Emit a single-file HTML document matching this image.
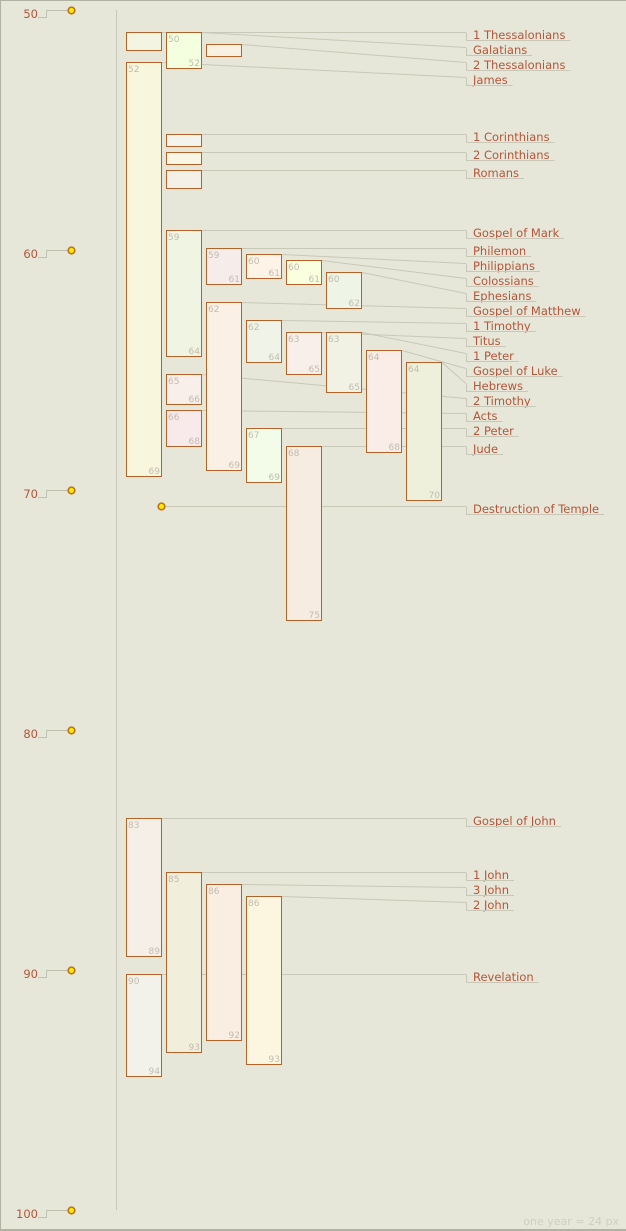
<!DOCTYPE html>
<html><head><meta charset="utf-8">
<style>
html,body{margin:0;padding:0;background:#e6e7d8;}
#wrap{position:relative;width:625px;height:1228px;border-left:1px solid #b0b3a2;border-top:1px solid #b0b3a2;border-bottom:2px solid #b0b3a2;background:#e6e7d8;overflow:hidden;}
svg{position:absolute;left:-1px;top:-1px;}
text{font-family:"DejaVu Sans","Liberation Sans",sans-serif;}
</style></head>
<body>
<div id="wrap">
<svg id="chart" width="626" height="1231"></svg>
</div>
<script>
// ---- data ----
const books = ["1 Thessalonians","Galatians","2 Thessalonians","James","1 Corinthians","2 Corinthians","Romans","Gospel of Mark","Philemon","Philippians","Colossians","Ephesians","Gospel of Matthew","1 Timothy","Titus","1 Peter","Gospel of Luke","Hebrews","2 Timothy","Acts","2 Peter","Jude","Gospel of John","1 John","3 John","2 John","Revelation"];
const startYears = [50.75,50.75,51.25,52,55,55.75,56.5,59,59.75,60,60.25,60.75,62,62.75,63.25,63.25,64,64.5,65,66.5,67.25,68,83.5,85.75,86.25,86.75,90];
const endYears   = [51.5,52.25,51.75,69.25,55.5,56.25,57.25,64.25,61.25,61,61.25,62.25,69,64.5,65,65.75,68.25,70.25,66.25,68,69.5,75.25,89.25,93.25,92.75,93.75,94.25];
const startText  = ["","50","","52","","","","59","59","60","60","60","62","62","63","63","64","64","65","66","67","68","83","85","86","86","90"];
const endText    = ["","52","","69","","","","64","61","61","61","62","69","64","65","65","68","70","66","68","69","75","89","93","92","93","94"];
const columns    = [0,1,2,0,1,1,1,1,2,3,4,5,2,3,4,5,6,7,1,1,3,4,0,1,2,3,0];
const fills = ["#f4f4e2","#f4ffe0","#f8f0e0","#f8f6dc","#f4f4ec","#faf6e6","#f4f0e8","#f0f4e2","#f6ecea","#fdf3e6","#faffe0","#eef4e6","#faf0e6","#f0f4e8","#f8efea","#f2f2e4","#faece6","#eef0dc","#f8eeea","#f8eaea","#f2fce8","#f6ece2","#f6efe8","#f2eedc","#faeee2","#fcf5e0","#f2f2ea"];
const labelRowY = [35,50,65,80,137,155,173,233,251,266,281,296,311,326,341,356,371,386,401,416,431,449,821,875,890,905,977];
const eventName = "Destruction of Temple";
const eventYear = 70.5;
const eventLabelY = 509;
const tickYears = [50,60,70,80,90,100];

// ---- scales ----
const Y0 = 14, PX = 24;
function yOf(yr){ return Y0 + (yr-50)*PX; }
function colX(c){ return 126 + c*40; }
const svg = document.getElementById('chart');
const NS = "http://www.w3.org/2000/svg";
function mk(tag, attrs, parent){ const e=document.createElementNS(NS,tag); for(const k in attrs) e.setAttribute(k,attrs[k]); (parent||svg).appendChild(e); return e; }

// axis
const axis = mk('line',{x1:116.5,y1:10,x2:116.5,y2:1210,stroke:'#c8c8b8','stroke-width':1});


tickYears.forEach(t=>{
  const ty = yOf(t)-4;
  const g = mk('g',{});
  
  
  mk('polyline',{points:`38,${ty+7.5} 46.5,${ty+7.5} 46.5,${ty+0.5} 68,${ty+0.5}`,fill:'none',stroke:'#c0c0b0','stroke-width':1},g);
  mk('circle',{cx:71.5,cy:ty+0.5,r:3.3,fill:'#ffee00',stroke:'#c07020','stroke-width':1.6},g);
  const tx = mk('text',{x:38,y:ty+8,'text-anchor':'end','font-size':11.5,fill:'#b5553a'},g);
  tx.textContent = t;
});

const lineLayer = mk('g',{});
const boxLayer = mk('g',{});
const labelLayer = mk('g',{});

function leader(x1,y1,ly,name,parent){
  const g = mk('g',{},parent);
  
  
  mk('line',{x1:x1,y1:y1+0.5,x2:466,y2:ly-2.5,stroke:'#c8c8b8','stroke-width':1},lineLayer);
  const t = mk('text',{x:473,y:ly+4,'font-size':11.5,fill:'#b5553a'},g);
  t.textContent = name;
  const w = t.getComputedTextLength();
  mk('polyline',{points:`466.5,${ly-2.5} 466.5,${ly+5.5} ${473+w+5},${ly+5.5}`,fill:'none',stroke:'#c8c8b8','stroke-width':1},g);
}

books.forEach((b,i)=>{
  const x = colX(columns[i]);
  const top = yOf(startYears[i]), bot = yOf(endYears[i]);
  const g = mk('g',{},boxLayer);
  
  
  mk('rect',{x:x+0.5,y:top+0.5,width:35,height:bot-top,fill:fills[i],stroke:'#b4622a','stroke-width':1},g);
  if(startText[i]){ const s=mk('text',{x:x+2,y:top+10,'font-size':9,fill:'#c2bcb0'},g); s.textContent=startText[i]; }
  if(endText[i]){ const e=mk('text',{x:x+34,y:bot-2,'font-size':9,fill:'#c2bcb0','text-anchor':'end'},g); e.textContent=endText[i]; }
  leader(x+36, top, labelRowY[i], b, labelLayer);
});

// event
const ey = yOf(eventYear);
const ev = mk('circle',{cx:161.5,cy:ey+0.5,r:3.3,fill:'#ffee00',stroke:'#c07020','stroke-width':1.6});


leader(165, ey, eventLabelY, eventName, labelLayer);

const ft = mk('text',{x:619,y:1225,'text-anchor':'end','font-size':11,fill:'#cfcfc0'});


ft.textContent = 'one year = 24 px';
</script>
</body></html>
